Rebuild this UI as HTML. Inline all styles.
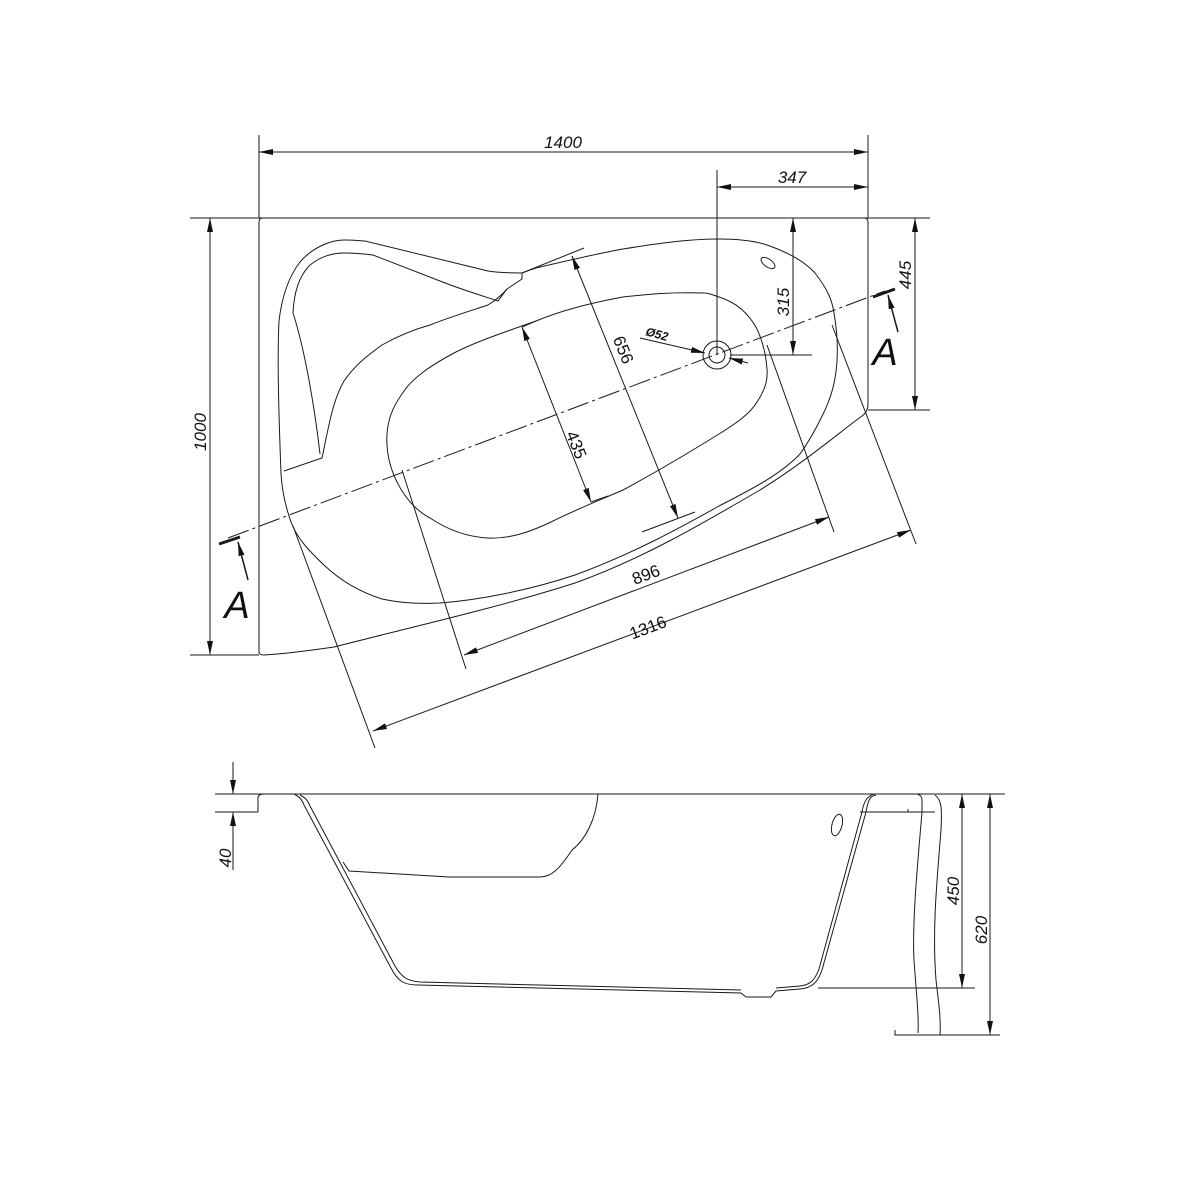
<!DOCTYPE html>
<html><head><meta charset="utf-8"><style>
html,body{margin:0;padding:0;background:#fff}
svg{display:block}
text{font-family:"Liberation Sans",sans-serif;font-style:italic;fill:#111}
</style></head><body>
<svg width="1200" height="1200" viewBox="0 0 1200 1200" xmlns="http://www.w3.org/2000/svg">
<defs>
<marker id="a" viewBox="0 0 14 6" refX="14" refY="3" markerWidth="14" markerHeight="6" markerUnits="userSpaceOnUse" orient="auto-start-reverse">
<path d="M0,0 L14,3 L0,6 Z" fill="#111"/></marker>
</defs>
<g fill="none" stroke="#1a1a1a" stroke-width="1">
<line x1="259" y1="135" x2="259" y2="218"/>
<line x1="868" y1="135" x2="868" y2="218"/>
<line x1="190" y1="218" x2="930" y2="218"/>
<line x1="190" y1="655" x2="259" y2="655"/>
<line x1="868" y1="410" x2="930" y2="410"/>
<line x1="717" y1="170" x2="717" y2="355"/>
<line x1="730" y1="355" x2="812" y2="355"/>
<line x1="259" y1="152" x2="868" y2="152" marker-start="url(#a)" marker-end="url(#a)"/>
<line x1="717" y1="187" x2="868" y2="187" marker-start="url(#a)" marker-end="url(#a)"/>
<line x1="210" y1="218" x2="210" y2="655" marker-start="url(#a)" marker-end="url(#a)"/>
<line x1="915" y1="218" x2="915" y2="410" marker-start="url(#a)" marker-end="url(#a)"/>
<line x1="793" y1="218" x2="793" y2="355" marker-start="url(#a)" marker-end="url(#a)"/>
<path d="M259,652 L259,222 Q259,218 263,218 L864,218 Q868,218 868,222 L868,404 Q868,412 862,416 C840,432 805,462 760,490 C700,525 640,560 575,583 C500,607 420,625 334,647 C300,652 280,654 264,655 Q259,655 259,652"/>
<path d="M281,474 C279,420 277,360 279,321 C282,295 290,275 300,262 C312,248 330,240 344,240 C355,240 362,241 365,241 L488,271 C500,273 512,273 522,273 L530,270 L536,268 C570,260 600,253 623,249 C660,243 690,239 719,239 C740,239 755,241 767,245 C790,253 805,262 815,273 C828,290 832,300 834,313 C837,330 838,345 837,361 C836,380 832,395 825,410 C818,425 810,440 800,454 C780,475 750,490 719,506 C680,528 630,555 575,575 C530,590 480,600 440,603 C420,604 400,603 382,599 C360,592 340,580 325,566 C308,550 297,538 291,522 C285,505 282,490 281,474 Z"/>
<path d="M284,471 L322,458 C324,450 325,442 327,434 C332,410 336,395 344,381 C355,365 368,355 382,345 C398,336 412,330 430,325 C450,317 470,311 488,305 C496,300 502,295 507,289 L522,279 L522,273"/>
<path d="M320,454 C315,410 305,350 293,313 C294,290 300,275 310,265 C320,257 332,253 344,253 C355,253 365,254 373,255 L440,281 C460,289 480,295 498,301 L507,289"/>
<line x1="522" y1="273" x2="584" y2="248"/>
<path d="M704,293 C670,292 650,294 623,297 C590,303 560,311 536,321 C505,332 475,342 454,353 C430,366 412,378 402,394 C392,408 388,420 387,434 C386,452 390,468 397,482 C405,498 415,510 430,518 C448,530 468,537 488,538 C510,539 530,532 551,522 C575,510 600,500 623,490 C660,470 690,452 719,434 C735,424 750,414 757,402 C765,390 768,380 767,369 C766,355 763,342 757,329 C748,312 735,302 719,297 C713,295 709,293 704,293 Z"/>
<line x1="642" y1="532" x2="695" y2="512"/>
<line x1="591" y1="502" x2="608" y2="496"/>
<line x1="522" y1="327" x2="536" y2="321"/>
<ellipse cx="768" cy="263" rx="4" ry="8" transform="rotate(-55 768 263)"/>
<circle cx="717" cy="355" r="14"/>
<circle cx="717" cy="355" r="8"/>
<line x1="640" y1="338" x2="705" y2="353" marker-end="url(#a)"/>
<line x1="748" y1="363" x2="729" y2="358" marker-end="url(#a)"/>
<line x1="228" y1="538" x2="885" y2="291" stroke-dasharray="22,4,3,4"/>
<line x1="219" y1="544" x2="240" y2="537" stroke-width="3"/>
<line x1="873" y1="297" x2="895" y2="289" stroke-width="3"/>
<line x1="248" y1="580" x2="238" y2="542" marker-end="url(#a)" stroke-width="1.5"/>
<line x1="898" y1="332" x2="888" y2="295" marker-end="url(#a)" stroke-width="1.5"/>
<line x1="402" y1="470" x2="466" y2="669"/>
<line x1="767" y1="345" x2="834" y2="532"/>
<line x1="293" y1="526" x2="375" y2="748"/>
<line x1="832" y1="325" x2="916" y2="544"/>
<line x1="464" y1="655" x2="829" y2="517" marker-start="url(#a)" marker-end="url(#a)"/>
<line x1="373" y1="731" x2="911" y2="530" marker-start="url(#a)" marker-end="url(#a)"/>
<line x1="572" y1="256" x2="678" y2="518" marker-start="url(#a)" marker-end="url(#a)"/>
<line x1="522" y1="327" x2="591" y2="502" marker-start="url(#a)" marker-end="url(#a)"/>

<line x1="215" y1="794" x2="1005" y2="794"/>
<line x1="215" y1="812" x2="258" y2="812"/>
<line x1="860" y1="812" x2="935" y2="812"/>
<line x1="233" y1="762" x2="233" y2="794" marker-end="url(#a)"/>
<line x1="233" y1="870" x2="233" y2="812" marker-end="url(#a)"/>
<path d="M258,812 L258,798 Q258,794 264,794 L293,794"/>
<path d="M294,794 C300,797 302,800 304,805 L391,968 C398,982 405,985 418,985 L741,993 L746,997 L771,997 L776,991 L800,989 C812,988 818,982 822,970 L866,812 C868,800 870,796 876,795"/>
<path d="M300,795 C306,798 308,801 310,806 L395,966 C402,978 408,981 420,982 L741,990 M776,988 L800,986 C810,985 815,980 819,969 L862,812 C864,800 868,796 874,794"/>
<path d="M874,794 L917,794 Q922,795 922,800 L922,812 L908,812 L908,809"/>
<path d="M598,794 C596,820 585,840 572,850 C560,868 552,877 540,877 L449,877 L349,871 L343,862"/>
<ellipse cx="837" cy="825" rx="5" ry="11" transform="rotate(15 837 825)"/>
<path d="M922,812 C918,860 912,920 914,960 C916,990 919,1015 918,1033"/>
<path d="M935,795 C942,800 942,810 941,830 C937,880 932,930 936,980 C939,1005 941,1020 940,1035"/>
<path d="M895,1030 L895,1035 L918,1035"/>
<line x1="895" y1="1035" x2="1000" y2="1035"/>
<line x1="818" y1="988" x2="975" y2="988"/>
<line x1="962" y1="794" x2="962" y2="988" marker-start="url(#a)" marker-end="url(#a)"/>
<line x1="990" y1="794" x2="990" y2="1035" marker-start="url(#a)" marker-end="url(#a)"/>
</g>
<g font-size="17">
<text x="563" y="148" text-anchor="middle">1400</text>
<text x="792" y="183" text-anchor="middle">347</text>
<text transform="translate(206,432) rotate(-90)" text-anchor="middle">1000</text>
<text transform="translate(911,275) rotate(-90)" text-anchor="middle">445</text>
<text transform="translate(789,302) rotate(-90)" text-anchor="middle">315</text>
<text transform="translate(618,352) rotate(68)" text-anchor="middle" style="font-style:normal">656</text>
<text transform="translate(571,447) rotate(68)" text-anchor="middle" style="font-style:normal">435</text>
<text transform="translate(648,580) rotate(-20.6)" text-anchor="middle" style="font-style:normal">896</text>
<text transform="translate(650,633) rotate(-20.6)" text-anchor="middle" style="font-style:normal">1316</text>
<text transform="translate(656,338) rotate(15)" text-anchor="middle" font-size="12" font-weight="bold">Ø52</text>
<text transform="translate(231,858) rotate(-90)" text-anchor="middle">40</text>
<text transform="translate(959,891) rotate(-90)" text-anchor="middle">450</text>
<text transform="translate(987,930) rotate(-90)" text-anchor="middle">620</text>
</g>
<text x="237" y="618" font-size="38" text-anchor="middle">A</text>
<text x="885" y="365" font-size="38" text-anchor="middle">A</text>
</svg>
</body></html>
